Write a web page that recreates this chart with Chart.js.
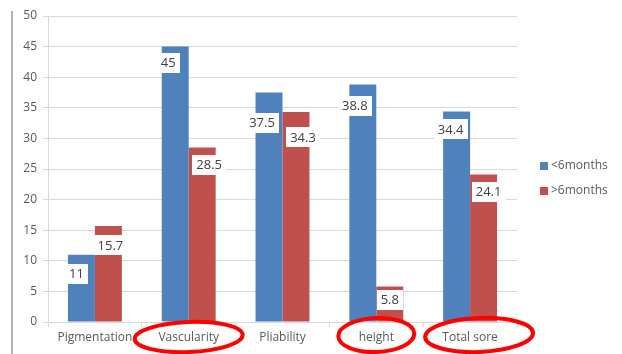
<!DOCTYPE html>
<html>
<head>
<meta charset="utf-8">
<script src="https://cdn.jsdelivr.net/npm/chart.js@4/dist/chart.umd.min.js"></script>
<style>
  html, body { margin: 0; padding: 0; background: #fff; }
  #wrap { position: relative; width: 622px; height: 354px; }
  canvas { display: block; }
</style>
</head>
<body>
<div id="wrap"><canvas id="c" width="622" height="354"></canvas></div>
<script>
// Scar scale scores by time since injury
const categories = ['Pigmentation', 'Vascularity', 'Pliability', 'height', 'Total sore'];
const seriesNames = ['<6months', '>6months'];
const under6 = [11, 45, 37.5, 38.8, 34.4];
const over6 = [15.7, 28.5, 34.3, 5.8, 24.1];
const yTicks = [0, 5, 10, 15, 20, 25, 30, 35, 40, 45, 50];
const circled = ['Vascularity', 'height', 'Total sore'];

// Label box offsets (dx, dy) from each bar's top centre
const labelOffsets = [
  [[-5, 19], [-7, 16], [-7, 30], [-8, 21], [-6, 18]],
  [[2, 19], [7, 17], [7, 25], [0, 13], [5, 17]]
];
// Ellipse geometry for circled categories: dx, cy, rx, ry
const ellipseStyle = {
  'Vascularity': [0, 337, 54, 15],
  'height': [0, 335, 38, 17],
  'Total sore': [9, 335, 54, 17]
};

const FONT = '"Open Sans", "Liberation Sans", sans-serif';
const TEXT = '#595959';
const GRID = '#D9D9D9';

const valueLabels = {
  id: 'valueLabels',
  afterDatasetsDraw(chart) {
    const ctx = chart.ctx;
    ctx.save();
    ctx.font = '13px ' + FONT;
    ctx.textAlign = 'center';
    ctx.textBaseline = 'middle';
    chart.data.datasets.forEach((ds, di) => {
      const meta = chart.getDatasetMeta(di);
      meta.data.forEach((bar, i) => {
        const txt = String(ds.data[i]);
        const off = labelOffsets[di][i];
        const cx = bar.x + off[0];
        const cy = bar.y + off[1];
        const w = ctx.measureText(txt).width + 8;
        const h = 20;
        ctx.fillStyle = '#ffffff';
        ctx.fillRect(Math.round(cx - w / 2), Math.round(cy - h / 2), Math.round(w), h);
        ctx.fillStyle = '#404040';
        ctx.fillText(txt, cx, cy + 1);
      });
    });
    ctx.restore();
  }
};

const sideLegend = {
  id: 'sideLegend',
  afterDraw(chart) {
    const ctx = chart.ctx;
    ctx.save();
    ctx.font = '12px ' + FONT;
    ctx.textBaseline = 'middle';
    ctx.textAlign = 'left';
    chart.data.datasets.forEach((ds, i) => {
      const y = 166 + i * 25;
      ctx.fillStyle = ds.backgroundColor;
      ctx.fillRect(540, y - 4, 8, 8);
      ctx.fillStyle = TEXT;
      ctx.fillText(ds.label, 551, y);
    });
    ctx.restore();
  }
};

const marks = {
  id: 'marks',
  beforeDraw(chart) {
    const ctx = chart.ctx;
    ctx.save();
    ctx.strokeStyle = '#9A9A9A';
    ctx.lineWidth = 1.5;
    ctx.beginPath();
    ctx.moveTo(12, 11);
    ctx.lineTo(12, 354);
    ctx.stroke();
    ctx.restore();
  },
  afterDraw(chart) {
    const ctx = chart.ctx;
    const xs = chart.scales.x;
    ctx.save();
    ctx.strokeStyle = '#FF0000';
    ctx.lineWidth = 4;
    circled.forEach(name => {
      const idx = categories.indexOf(name);
      const s = ellipseStyle[name];
      const cx = xs.getPixelForValue(idx) + s[0];
      ctx.beginPath();
      ctx.ellipse(cx, s[1], s[2], s[3], -0.04, 0, Math.PI * 2);
      ctx.stroke();
    });
    ctx.restore();
  }
};

new Chart(document.getElementById('c'), {
  type: 'bar',
  data: {
    labels: categories,
    datasets: [
      { label: seriesNames[0], data: under6, backgroundColor: '#4F81BD' },
      { label: seriesNames[1], data: over6, backgroundColor: '#C0504D' }
    ]
  },
  options: {
    responsive: false,
    animation: false,
    layout: { padding: { top: 16, right: 105, left: 0, bottom: 0 } },
    datasets: { bar: { barPercentage: 1, categoryPercentage: 0.575 } },
    plugins: {
      legend: { display: false },
      tooltip: { enabled: false }
    },
    scales: {
      x: {
        afterFit(scale) { scale.height = 32; },
        grid: { offset: true, drawOnChartArea: false, tickLength: 5, color: GRID },
        border: { color: GRID },
        ticks: { color: TEXT, font: { family: FONT, size: 12 }, padding: 3 }
      },
      y: {
        min: 0, max: 50,
        afterFit(scale) { scale.width = 48; },
        afterBuildTicks(scale) { scale.ticks = yTicks.map(v => ({ value: v })); },
        grid: { color: GRID, tickLength: 5 },
        border: { color: GRID },
        ticks: { color: TEXT, font: { family: FONT, size: 12 }, padding: 6 }
      }
    }
  },
  plugins: [marks, valueLabels, sideLegend]
});
</script>
</body>
</html>
